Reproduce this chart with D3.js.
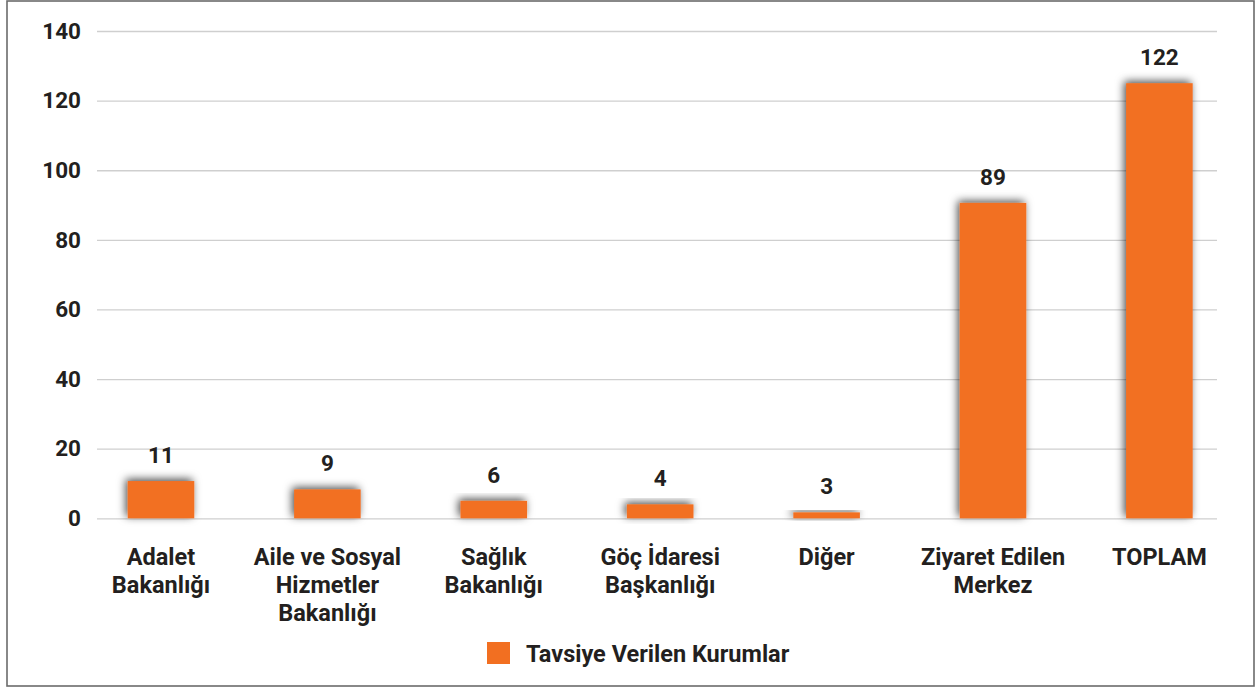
<!DOCTYPE html>
<html>
<head>
<meta charset="utf-8">
<script src="https://cdn.jsdelivr.net/npm/d3@7"></script>
<style>
  body { margin: 0; background: #fff; }
  text { font-family: Roboto, "Noto Sans", sans-serif; font-weight: bold; fill: #231f20; }
</style>
</head>
<body>
<svg id="chart" width="1258" height="690"></svg>
<script>
// kategoriler ve degerler
const categories = [
  ['Adalet', 'Bakanlığı'],
  ['Aile ve Sosyal', 'Hizmetler', 'Bakanlığı'],
  ['Sağlık', 'Bakanlığı'],
  ['Göç İdaresi', 'Başkanlığı'],
  ['Diğer'],
  ['Ziyaret Edilen', 'Merkez'],
  ['TOPLAM']
]
// bar heights as drawn in the picture
const barValues = [10.7, 8.3, 5.0, 4.0, 1.7, 90.6, 125.0]
// printed data labels
const labelValues = ['11', '9', '6', '4', '3', '89', '122']
const yTicks = [0, 20, 40, 60, 80, 100, 120, 140]
const seriesName = 'Tavsiye Verilen Kurumlar'

const barColor = '#f26f21'
const svg = d3.select('#chart')

// cerceve
svg.append('rect')
    .attr('x', 7).attr('y', 1)
    .attr('width', 1247).attr('height', 685)
    .attr('fill', 'none')
    .attr('stroke', '#6b6b6b')
    .attr('stroke-width', 1.6)

const defs = svg.append('defs')
const f = defs.append('filter').attr('id', 'shadow')
    .attr('x', '-40%').attr('y', '-40%').attr('width', '180%').attr('height', '180%')
f.append('feDropShadow')
    .attr('dx', -2).attr('dy', -2)
    .attr('stdDeviation', 4.5)
    .attr('flood-color', '#000')
    .attr('flood-opacity', 0.7)

const ids = categories.map((d, i) => 'c' + i)
const xScale = d3.scaleBand().domain(ids).range([77.8, 1242.6])
    .paddingInner(0.6).paddingOuter(0.3)
const yScale = d3.scaleLinear().domain([0, 140]).range([518.3, 31])

// y ekseni + grid
const yAxis = d3.axisLeft(yScale).tickValues(yTicks)
    .tickSize(-(1217 - 97)).tickPadding(16)
const gy = svg.append('g').attr('transform', 'translate(97,0)').call(yAxis)
gy.select('.domain').remove()
gy.selectAll('.tick line').attr('stroke', '#cfcfcf').attr('stroke-width', 1.3)
gy.selectAll('.tick text')
    .style('font-size', '22.5px')
    .attr('fill', '#231f20')
    .attr('font-family', null)

// barlar
svg.append('g').selectAll('.bar')
    .data(barValues)
    .join('rect')
    .attr('class', 'bar')
    .attr('x', (d, i) => xScale(ids[i]))
    .attr('y', d => yScale(d))
    .attr('width', xScale.bandwidth())
    .attr('height', d => yScale(0) - yScale(d))
    .attr('fill', barColor)
    .attr('filter', 'url(#shadow)')

// deger etiketleri
svg.append('g').selectAll('.val')
    .data(labelValues)
    .join('text')
    .attr('class', 'val')
    .attr('x', (d, i) => xScale(ids[i]) + xScale.bandwidth() / 2)
    .attr('y', (d, i) => yScale(barValues[i]) - 18)
    .attr('text-anchor', 'middle')
    .style('font-size', '22.5px')
    .text(d => d)

// x etiketleri
const xl = svg.append('g').selectAll('.xlab')
    .data(categories)
    .join('text')
    .attr('class', 'xlab')
    .attr('text-anchor', 'middle')
    .style('font-size', '23.5px')
xl.each(function (lines, i) {
    const cx = xScale(ids[i]) + xScale.bandwidth() / 2
    d3.select(this).selectAll('tspan')
        .data(lines)
        .join('tspan')
        .attr('x', cx)
        .attr('y', (d, j) => 565 + j * 28)
        .text(d => d)
})

// legend
const lg = svg.append('g')
lg.append('rect')
    .attr('x', 487).attr('y', 642)
    .attr('width', 23).attr('height', 22)
    .attr('fill', barColor)
lg.append('text')
    .attr('x', 526).attr('y', 662)
    .style('font-size', '23.5px')
    .text(seriesName)
</script>
</body>
</html>
